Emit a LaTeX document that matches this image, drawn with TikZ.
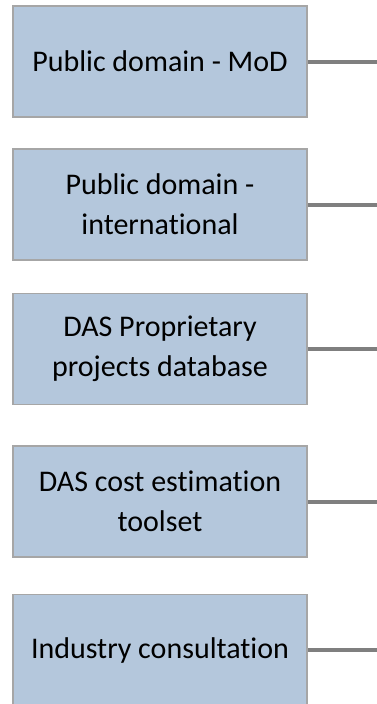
\documentclass[tikz,border=0pt]{standalone}
\usepackage{fontspec}
\setmainfont[Ligatures={NoCommon,NoRare}]{Carlito}
\usetikzlibrary{positioning}
\definecolor{boxblue}{RGB}{180,199,220}
\definecolor{boxedge}{RGB}{166,166,166}
\definecolor{linkgray}{RGB}{127,127,127}
\tikzstyle{source}=[rectangle,draw=boxedge,line width=1.5pt,fill=boxblue,
minimum width=294pt,minimum height=111pt,align=center,font=\fontsize{30}{40}\selectfont]
\tikzstyle{link}=[draw=linkgray,line width=4pt]

\begin{document}
\begin{tikzpicture}[x=1pt,y=1pt]
            \useasboundingbox (0,0) rectangle (377,-704);

            % SOURCE BOXES

            \node[source] (s1) at (160,-61.5) {Public domain - MoD};
            \node[source, below=30.5pt of s1] (s2) {Public domain -\\international};
            \node[source, below=32pt of s2] (s3) {DAS Proprietary\\projects database};
            \node[source, below=40pt of s3] (s4) {DAS cost estimation\\toolset};
            \node[source, below=36pt of s4] (s5) {Industry consultation};

            % LINKS

            \coordinate[right=70pt of s1.east] (e1);
            \coordinate[right=70pt of s2.east] (e2);
            \coordinate[right=70pt of s3.east] (e3);
            \coordinate[right=70pt of s4.east] (e4);
            \coordinate[right=70pt of s5.east] (e5);

            \draw[link] (s1) -- (e1);
            \draw[link] (s2) -- (e2);
            \draw[link] (s3) -- (e3);
            \draw[link] (s4) -- (e4);
            \draw[link] (s5) -- (e5);

        \end{tikzpicture}
\end{document}
